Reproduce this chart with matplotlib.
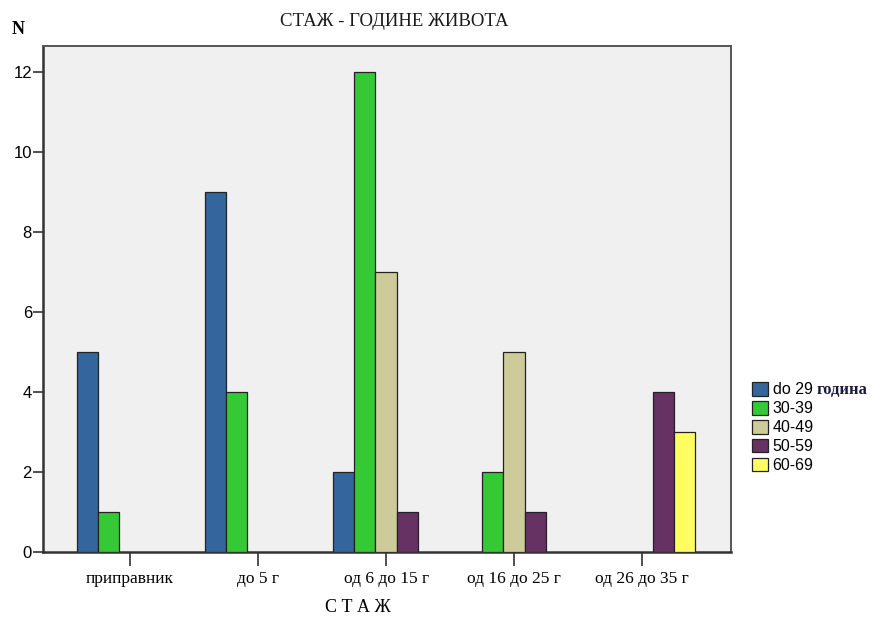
import numpy as np
import matplotlib.pyplot as plt

# experience groups (x axis) and age groups (series)
categories = ['приправник', 'до 5 г', 'од 6 до 15 г', 'од 16 до 25 г', 'од 26 до 35 г']
age_groups = ['do 29', '30-39', '40-49', '50-59', '60-69']
do29 = [5, 9, 2, 0, 0]
g30_39 = [1, 4, 12, 2, 0]
g40_49 = [0, 0, 7, 5, 0]
g50_59 = [0, 0, 1, 1, 4]
g60_69 = [0, 0, 0, 0, 3]
series = [do29, g30_39, g40_49, g50_59, g60_69]
colors = ['#34659c', '#35c935', '#cdcb99', '#653263', '#fefe60']

fig = plt.figure(figsize=(8.91, 6.18), dpi=100)
ax = fig.add_axes([0.0483, 0.1068, 0.7722, 0.8188])
ax.set_facecolor('#f0f0f0')

x = np.arange(len(categories))
w = 0.166
for i, (vals, c, lab) in enumerate(zip(series, colors, age_groups)):
    vals = np.array(vals)
    pos = x + (i - 2) * w
    mask = vals > 0
    ax.bar(pos[mask], vals[mask], width=w, color=c, edgecolor='#222222',
           linewidth=0.9, label=lab, zorder=3)

ax.set_xlim(-0.68, 4.695)
ax.set_ylim(0, 12.65)
ax.set_yticks(range(0, 13, 2))
ax.set_xticks(x)
ax.set_xticklabels(categories, family='Liberation Serif', fontsize=12.5)
ax.tick_params(axis='y', labelsize=12, length=7, width=1.2, color='#333333', pad=1)
ax.tick_params(axis='x', length=10, width=1.2, color='#333333', pad=4)
for lbl in ax.get_yticklabels():
    lbl.set_family('Liberation Sans')
for s in ax.spines.values():
    s.set_color('#555555')
    s.set_linewidth(1.4)
ax.spines['left'].set_color('#333333')
ax.spines['bottom'].set_color('#333333')
ax.spines['left'].set_linewidth(1.8)
ax.spines['bottom'].set_linewidth(1.8)

fig.text(0.443, 0.966, 'СТАЖ - ГОДИНЕ ЖИВОТА', family='Liberation Serif',
         fontsize=13.5, ha='center', va='center', color='#1a1a1a')
fig.text(0.013, 0.953, 'N', family='Liberation Serif', fontsize=13,
         fontweight='bold', ha='left', va='center')
fig.text(0.402, 0.017, 'С Т А Ж', family='Liberation Serif', fontsize=13,
         ha='center', va='center')

leg = ax.legend(loc='upper left', bbox_to_anchor=(1.0, 0.377), frameon=False,
                prop={'family': 'Liberation Sans', 'size': 11.5},
                handlelength=1.0, handleheight=0.95, handletextpad=0.3,
                labelspacing=0.22, borderaxespad=1.3, borderpad=0)
for h in leg.legend_handles:
    h.set_edgecolor('#222222')

fig.canvas.draw()
bb = leg.get_texts()[0].get_window_extent()
fig.text((bb.x1 + 4) / fig.bbox.width, (bb.y0 + bb.y1) / 2 / fig.bbox.height,
         'година', family='Liberation Serif', fontsize=12, fontweight='bold',
         color='#1a1a40', ha='left', va='center')

fig.savefig('out.png', dpi=100)
